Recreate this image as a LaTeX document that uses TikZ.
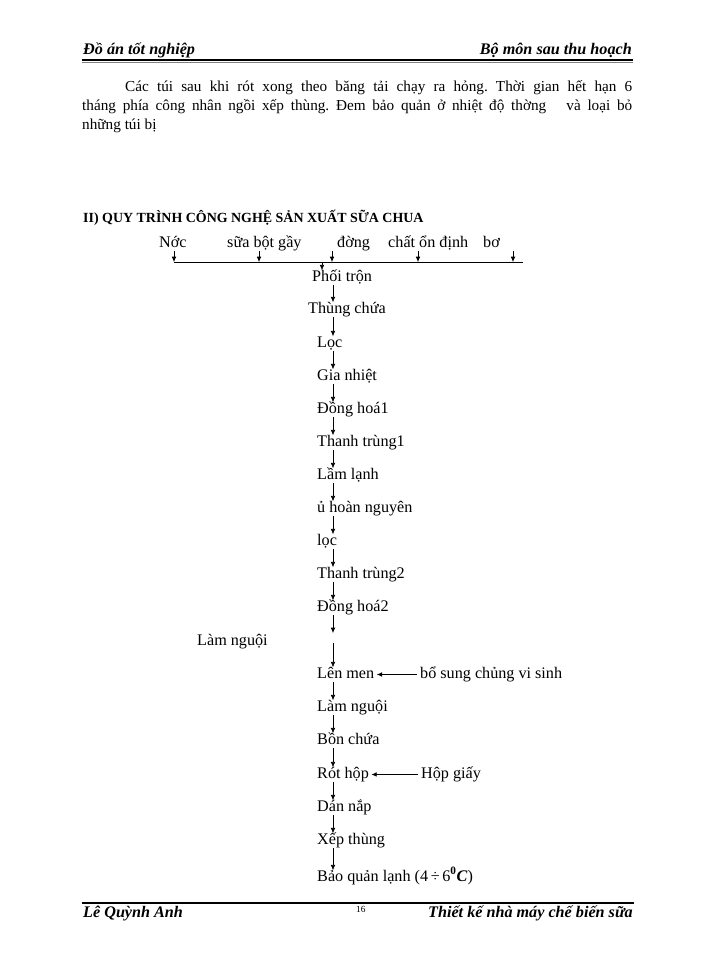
\documentclass[tikz,border=0pt]{standalone}
\usepackage{fontspec}
\setmainfont{Liberation Serif}
\usetikzlibrary{arrows.meta}
\frenchspacing
\tikzset{
	stage/.style={anchor=base west, inner sep=0pt, text height=9pt, text depth=3pt, font=\fontsize{13.8}{16}\selectfont},
	flow/.style={-{Latex[length=4.5pt,width=4pt]}, line width=.55pt},
	hdr/.style={inner sep=0pt, font=\fontsize{13.8}{16}\selectfont\bfseries\itshape},
}
\begin{document}
\begin{tikzpicture}[x=.3mm, y=-.3mm]
		\useasboundingbox (0, 0) rectangle (700, 960);
		\node[hdr, anchor=base west] (hleft) at (83, 55) {Đồ án tốt nghiệp};
		\node[hdr, anchor=base east] (hright) at (632, 55) {Bộ môn sau thu hoạch};
		\draw[line width=1.1pt] (82, 60) -- (633, 60);
		\draw[line width=.4pt, gray] (82, 62.2) -- (633, 62.2);
		\node[anchor=base west, inner sep=0pt] (para) at (82, 92) {\parbox[t]{165mm}{\fontsize{13}{16.2}\selectfont\hspace*{12.9mm}Các túi sau khi rót xong theo băng tải chạy ra hỏng. Thời gian hết hạn 6\linebreak tháng phía công nhân ngồi xếp thùng. Đem bảo quản ở nhiệt độ thờng\ \ \ và loại bỏ\linebreak những túi bị}};
		\node[anchor=base west, inner sep=0pt, font=\fontsize{11.9}{14}\selectfont\bfseries] (title) at (83, 222) {II) QUY TRÌNH CÔNG NGHỆ SẢN XUẤT SỮA CHUA};
		\node[stage] (nuoc) at (159, 247) {Nớc};
		\node[stage] (sua) at (227, 247) {sữa bột gầy};
		\node[stage] (duong) at (337, 247) {đờng};
		\node[stage] (odinh) at (388, 247) {chất ổn định};
		\node[stage] (bo) at (483, 247) {bơ};
		\coordinate (b1) at (174, 262);
		\coordinate (b2) at (259, 262);
		\coordinate (b3) at (332, 262);
		\coordinate (b4) at (418, 262);
		\coordinate (b5) at (513, 262);
		\coordinate (bend) at (523, 262);
		\coordinate (mix) at (322, 262);
		\coordinate (spine) at (333, 0);
		\draw[line width=.55pt] (b1) -- (bend);
		\draw[flow] (nuoc.south -| b1) -- (b1);
		\draw[flow] (sua.south -| b2) -- (b2);
		\draw[flow] (duong.south -| b3) -- (b3);
		\draw[flow] (odinh.south -| b4) -- (b4);
		\draw[flow] (bo.south -| b5) -- (b5);
		\node[stage] (p1) at (312, 281) {Phối trộn};
		\node[stage] (p2) at (308, 313) {Thùng chứa};
		\node[stage] (p3) at (317, 347) {Lọc};
		\node[stage] (p4) at (317, 380) {Gia nhiệt};
		\node[stage] (p5) at (317, 413) {Đồng hoá1};
		\node[stage] (p6) at (317, 446) {Thanh trùng1};
		\node[stage] (p7) at (317, 479) {Lầm lạnh};
		\node[stage] (p8) at (317, 512) {ủ hoàn nguyên};
		\node[stage] (p9) at (317, 545) {lọc};
		\node[stage] (p10) at (317, 578) {Thanh trùng2};
		\node[stage] (p11) at (317, 611) {Đồng hoá2};
		\node[stage] (nguoi) at (197, 645) {Làm nguội};
		\node[stage] (p12) at (317, 678) {Lên men};
		\node[stage] (p13) at (317, 711) {Làm nguội};
		\node[stage] (p14) at (317, 744) {Bồn chứa};
		\node[stage] (p15) at (317, 778) {Rót hộp};
		\node[stage] (p16) at (317, 811) {Dán nắp};
		\node[stage] (p17) at (317, 844) {Xếp thùng};
		\node[stage] (p18) at (317, 881) {Bảo quản lạnh (4\,÷\,6\textsuperscript{\textbf{0}}\textbf{\textit{C}})};
		\node[stage] (vs) at (420, 678) {bổ sung chủng vi sinh};
		\node[stage] (hop) at (421, 778) {Hộp giấy};
		\coordinate (g1) at (333, 633);
		\coordinate (g2) at (333, 643);
		\draw[flow] (mix) -- (p1.north -| mix);
		\draw[flow] (p1.south -| spine) -- (p2.north -| spine);
		\draw[flow] (p2.south -| spine) -- (p3.north -| spine);
		\draw[flow] (p3.south -| spine) -- (p4.north -| spine);
		\draw[flow] (p4.south -| spine) -- (p5.north -| spine);
		\draw[flow] (p5.south -| spine) -- (p6.north -| spine);
		\draw[flow] (p6.south -| spine) -- (p7.north -| spine);
		\draw[flow] (p7.south -| spine) -- (p8.north -| spine);
		\draw[flow] (p8.south -| spine) -- (p9.north -| spine);
		\draw[flow] (p9.south -| spine) -- (p10.north -| spine);
		\draw[flow] (p10.south -| spine) -- (p11.north -| spine);
		\draw[flow] (p11.south -| spine) -- (g1);
		\draw[flow] (g2) -- (p12.north -| spine);
		\draw[flow] (p12.south -| spine) -- (p13.north -| spine);
		\draw[flow] (p13.south -| spine) -- (p14.north -| spine);
		\draw[flow] (p14.south -| spine) -- (p15.north -| spine);
		\draw[flow] (p15.south -| spine) -- (p16.north -| spine);
		\draw[flow] (p16.south -| spine) -- (p17.north -| spine);
		\draw[flow] (p17.south -| spine) -- (p18.north -| spine);
		\draw[flow, shorten <=2.5pt, shorten >=2pt] (vs.west) -- (p12.east);
		\draw[flow, shorten <=2.5pt, shorten >=2pt] (hop.west) -- (p15.east);
		\draw[line width=1pt] (82, 903) -- (634, 903);
		\node[hdr, anchor=base west] (fleft) at (83, 917) {Lê Quỳnh Anh};
		\node[anchor=base west, inner sep=0pt, font=\fontsize{8}{9}\selectfont] (page) at (356, 912) {16};
		\node[hdr, anchor=base east] (fright) at (633, 917) {Thiết kế nhà máy chế biến sữa};
\end{tikzpicture}
\end{document}
